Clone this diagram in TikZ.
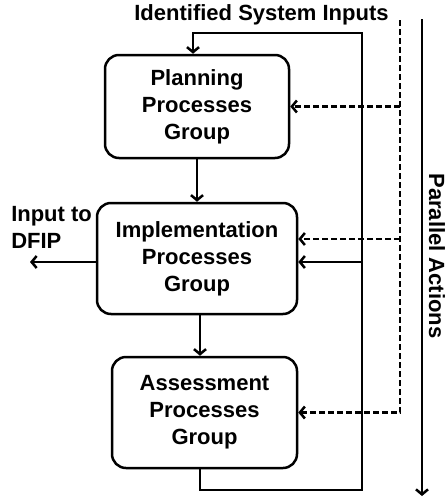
\documentclass[tikz,border=0pt]{standalone}
\usepackage{fontspec}
\setmainfont{Liberation Sans}
\usetikzlibrary{arrows.meta}
\tikzset{
  grp/.style={draw, rounded corners=14pt, align=center, inner sep=0pt, font=\bfseries\fontsize{22}{27}\selectfont},
  lbl/.style={inner sep=0pt, align=center, font=\bfseries\fontsize{22}{27}\selectfont},
  arr/.style={-{Straight Barb[length=5pt,width=12pt]}},
  darr/.style={arr, dash pattern=on 6pt off 3pt}}

\begin{document}
\begin{tikzpicture}[x=1pt, y=-1pt, line width=2.5pt]
\useasboundingbox (0,0) rectangle (446,498);
\node[grp, minimum width=184pt, minimum height=103pt] (plan) at (197,106.5) {Planning\\Processes\\Group};
\node[grp, minimum width=200pt, minimum height=111pt] (impl) at (197,258.5) {Implementation\\Processes\\Group};
\node[grp, minimum width=185pt, minimum height=111pt] (assess) at (204.5,412.5) {Assessment\\Processes\\Group};
\node[lbl] (inputs) at (261.5,15) {Identified System Inputs};
\node[lbl, anchor=west, align=left] (dfip) at (10,227) {Input to\\DFIP};
\node[lbl, rotate=-90] (par) at (437,256) {Parallel Actions};
% process chain
\coordinate (mid) at (200,0);
\draw[arr] (plan.south) -- (impl.north);
\draw[arr] (impl.south -| mid) -- (assess.north -| mid);
% feedback loop
\coordinate (fbr) at (362,490);
\coordinate (fbl) at (193,33);
\coordinate (fbi) at (362,262);
\draw[arr] (assess.south -| mid) |- (fbr) |- (fbl) -- (fbl |- plan.north);
\draw[arr] (fbi) -- (fbi -| impl.east);
\draw[arr] (fbi -| impl.west) -- (30,262);
% system inputs
\coordinate (dtop) at (400,20);
\coordinate (dimpl) at (400,239);
\draw[darr] (dtop) |- (assess.east);
\draw[darr] (dtop |- plan.east) -- (plan.east);
\draw[darr] (dimpl) -- (dimpl -| impl.east);
% parallel actions
\coordinate (ptop) at (422,19);
\coordinate (pbot) at (422,496);
\draw[arr] (ptop) -- (pbot);
\end{tikzpicture}
\end{document}
